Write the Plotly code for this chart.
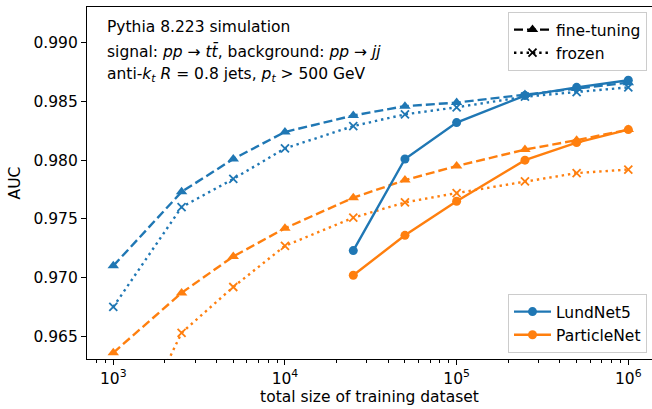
import plotly.graph_objects as go

# ---- data ----
sizes = [1e3, 2.5e3, 5e3, 1e4, 2.5e4, 5e4, 1e5, 2.5e5, 5e5, 1e6]
sizes_scratch = [2.5e4, 5e4, 1e5, 2.5e5, 5e5, 1e6]

lund_finetune = [0.9710, 0.9773, 0.9801, 0.9824, 0.9838, 0.9846, 0.9849, 0.9856, 0.9861, 0.9866]
lund_frozen = [0.9675, 0.9760, 0.9784, 0.9810, 0.9829, 0.9839, 0.9845, 0.9854, 0.9858, 0.9862]
lund_scratch = [0.9723, 0.9801, 0.9832, 0.9855, 0.9862, 0.9868]

pnet_finetune = [0.9636, 0.9687, 0.9718, 0.9742, 0.9768, 0.9783, 0.9795, 0.9809, 0.9817, 0.9826]
pnet_frozen = [0.9532, 0.9653, 0.9692, 0.9727, 0.9751, 0.9764, 0.9772, 0.9782, 0.9789, 0.9792]
pnet_scratch = [0.9702, 0.9736, 0.9765, 0.9800, 0.9815, 0.9826]

x_tick_vals = [1e3, 1e4, 1e5, 1e6]
x_tick_text = ["10<sup>3</sup>", "10<sup>4</sup>", "10<sup>5</sup>", "10<sup>6</sup>"]
y_tick_vals = [0.965, 0.970, 0.975, 0.980, 0.985, 0.990]
y_tick_text = ["0.965", "0.970", "0.975", "0.980", "0.985", "0.990"]

BLUE = "#1f77b4"
ORANGE = "#ff7f0e"
LW = 2.4
DASH = "9px,4px"
DOT = "2.4px,3.9px"
FONT = "DejaVu Sans"
FS = 15.5

fig = go.Figure()


def add_series(x, y, color, kind, name=None, legend=None, show=False):
    if kind == "finetune":
        line = dict(color=color, width=LW, dash=DASH)
        marker = dict(symbol="triangle-up", size=10, color=color)
    elif kind == "frozen":
        line = dict(color=color, width=LW, dash=DOT)
        marker = dict(symbol="x-thin", size=8, color=color,
                      line=dict(width=1.8, color=color))
    else:
        line = dict(color=color, width=LW)
        marker = dict(symbol="circle", size=9, color=color)
    fig.add_trace(go.Scatter(
        x=x, y=y, mode="lines+markers", line=line, marker=marker,
        name=name, showlegend=show, legend=legend or "legend",
    ))


add_series(sizes, lund_finetune, BLUE, "finetune")
add_series(sizes, lund_frozen, BLUE, "frozen")
add_series(sizes, pnet_finetune, ORANGE, "finetune")
add_series(sizes, pnet_frozen, ORANGE, "frozen")
add_series(sizes_scratch, lund_scratch, BLUE, "scratch")
add_series(sizes_scratch, pnet_scratch, ORANGE, "scratch")

# legend-only entries
add_series([None], [None], "black", "finetune", name="fine-tuning", legend="legend", show=True)
add_series([None], [None], "black", "frozen", name="frozen", legend="legend", show=True)
add_series([None], [None], BLUE, "scratch", name="LundNet5", legend="legend2", show=True)
add_series([None], [None], ORANGE, "scratch", name="ParticleNet", legend="legend2", show=True)

W, H = 652, 409
L, R, T, B = 87, 0, 7, 50
pw, ph = W - L - R, H - T - B


def px_x(px):
    return (px - L) / pw


def px_y(py):
    return (H - B - py) / ph


legend_common = dict(
    font=dict(family=FONT, size=FS, color="black"),
    bgcolor="rgba(255,255,255,0.8)",
    bordercolor="#cccccc", borderwidth=1,
    xanchor="right", itemwidth=37, tracegroupgap=0,
)

fig.update_layout(
    width=W, height=H,
    margin=dict(l=L, r=R, t=T, b=B, autoexpand=False),
    paper_bgcolor="white", plot_bgcolor="white",
    font=dict(family=FONT, size=FS, color="black"),
    legend=dict(x=px_x(647), y=px_y(12), yanchor="top", **legend_common),
    legend2=dict(x=px_x(647), y=px_y(353), yanchor="bottom", **legend_common),
    xaxis=dict(
        type="log", range=[2.847, 6.138], automargin=False,
        tickvals=x_tick_vals, ticktext=x_tick_text,
        ticks="outside", ticklen=5, tickwidth=1.2, tickcolor="black",
        showline=True, linecolor="black", linewidth=1.3, mirror=True,
        showgrid=False, zeroline=False,
        tickfont=dict(family=FONT, size=FS),
        minor=dict(
            tickvals=[m * 10 ** k for k in (2, 3, 4, 5) for m in range(2, 10)],
            ticks="outside", ticklen=3, tickwidth=1, tickcolor="black", showgrid=False,
        ),
        title=dict(text="total size of training dataset", standoff=2,
                   font=dict(family=FONT, size=FS)),
    ),
    yaxis=dict(
        range=[0.96307, 0.99304], automargin=False,
        tickvals=y_tick_vals, ticktext=y_tick_text,
        ticks="outside", ticklen=5, tickwidth=1.2, tickcolor="black",
        showline=True, linecolor="black", linewidth=1.3, mirror=False,
        showgrid=False, zeroline=False,
        tickfont=dict(family=FONT, size=FS),
        title=dict(text="AUC", standoff=8, font=dict(family=FONT, size=FS)),
    ),
)

text_lines = [
    "Pythia 8.223 simulation",
    "signal: <i>pp</i> → <i>tt̄</i>, background: <i>pp</i> → <i>jj</i>",
    "anti-<i>k</i><sub><i>t</i></sub> <i>R</i> = 0.8 jets, <i>p</i><sub><i>t</i></sub> > 500 GeV",
]
text_y = [27, 51, 75]
for t, yy in zip(text_lines, text_y):
    fig.add_annotation(
        text=t, xref="paper", yref="paper", x=px_x(105), y=px_y(yy),
        xanchor="left", yanchor="middle", showarrow=False, align="left",
        font=dict(family=FONT, size=FS, color="black"),
    )

fig.write_html(
    "out.html",
    config={"displayModeBar": False},
    post_script="document.body.style.margin='0';document.body.style.overflow='hidden';",
)
